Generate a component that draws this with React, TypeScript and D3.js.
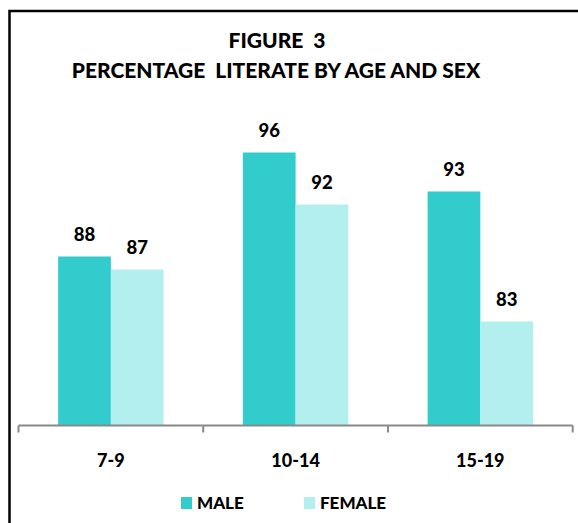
import React, { useEffect, useRef } from 'react';
import * as d3 from 'd3';

const categories = ['7-9', '10-14', '15-19'];
const seriesNames = ['MALE', 'FEMALE'];
const maleValues = [88, 96, 93];
const femaleValues = [87, 92, 83];
const colors = ['#33CCCC', '#B3EFEE'];

const width = 578;
const height = 523;
const font = 'Lato, "Open Sans", sans-serif';

export default function App() {
  const svgRef = useRef<SVGSVGElement>(null);

  useEffect(() => {
    if (!svgRef.current) return;
    const svg = d3.select(svgRef.current);
    svg.selectAll('*').remove();

    // outer frame (only top and left edges visible)
    svg.append('rect')
      .attr('x', 9.5)
      .attr('y', 11)
      .attr('width', 700)
      .attr('height', 700)
      .attr('fill', 'white')
      .attr('stroke', '#000')
      .attr('stroke-width', 2.5);

    // title
    svg.append('text')
      .attr('x', 277)
      .attr('y', 48)
      .attr('text-anchor', 'middle')
      .style('font-family', font)
      .style('font-weight', '900')
      .style('font-size', '21px')
      .style('white-space', 'pre')
      .text('FIGURE  3');

    svg.append('text')
      .attr('x', 276)
      .attr('y', 78)
      .attr('text-anchor', 'middle')
      .style('font-family', font)
      .style('font-weight', '900')
      .style('font-size', '21px')
      .style('white-space', 'pre')
      .text('PERCENTAGE  LITERATE BY AGE AND SEX');

    const x0 = d3.scaleBand<string>()
      .domain(categories)
      .range([18.5, 572.7])
      .padding(0);

    const x1 = d3.scaleBand<string>()
      .domain(seriesNames)
      .range([0, x0.bandwidth()])
      .paddingInner(0)
      .paddingOuter(0.752);

    const y = d3.scaleLinear()
      .domain([75, 100])
      .range([425.5, 100.5]);

    const rows = categories.map((c, i) => ({
      category: c,
      values: [
        { name: seriesNames[0], value: maleValues[i], color: colors[0] },
        { name: seriesNames[1], value: femaleValues[i], color: colors[1] },
      ],
    }));

    const groups = svg.selectAll('g.cat')
      .data(rows)
      .enter()
      .append('g')
      .attr('class', 'cat')
      .attr('transform', d => `translate(${x0(d.category)},0)`);

    groups.selectAll('rect')
      .data(d => d.values)
      .enter()
      .append('rect')
      .attr('x', d => x1(d.name)!)
      .attr('y', d => y(d.value))
      .attr('width', x1.bandwidth())
      .attr('height', d => y(75) - y(d.value))
      .attr('fill', d => d.color);

    groups.selectAll('text')
      .data(d => d.values)
      .enter()
      .append('text')
      .attr('x', d => x1(d.name)! + x1.bandwidth() / 2)
      .attr('y', d => y(d.value) - 16)
      .attr('text-anchor', 'middle')
      .style('font-family', font)
      .style('font-weight', '900')
      .style('font-size', '18.5px')
      .text(d => d.value);

    // category axis
    const axis = svg.append('g');
    axis.append('line')
      .attr('x1', x0.range()[0])
      .attr('x2', x0.range()[1])
      .attr('y1', y(75))
      .attr('y2', y(75))
      .attr('stroke', '#898989')
      .attr('stroke-width', 2);

    const tickXs = [...categories.map(c => x0(c)!), x0.range()[1]];
    axis.selectAll('line.tick')
      .data(tickXs)
      .enter()
      .append('line')
      .attr('class', 'tick')
      .attr('x1', d => d)
      .attr('x2', d => d)
      .attr('y1', y(75))
      .attr('y2', y(75) + 7)
      .attr('stroke', '#898989')
      .attr('stroke-width', 2);

    axis.selectAll('text')
      .data(categories)
      .enter()
      .append('text')
      .attr('x', d => x0(d)! + x0.bandwidth() / 2)
      .attr('y', 467)
      .attr('text-anchor', 'middle')
      .style('font-family', font)
      .style('font-weight', '900')
      .style('font-size', '18px')
      .text(d => d);

    // legend
    const legendX = [181, 304];
    const legend = svg.selectAll('g.legend')
      .data(seriesNames)
      .enter()
      .append('g')
      .attr('class', 'legend')
      .attr('transform', (d, i) => `translate(${legendX[i]},497)`);

    legend.append('rect')
      .attr('width', 11)
      .attr('height', 12)
      .attr('fill', (d, i) => colors[i]);

    legend.append('text')
      .attr('x', 16)
      .attr('y', 11.5)
      .style('font-family', font)
      .style('font-weight', '900')
      .style('font-size', '17px')
      .text(d => d);
  }, []);

  return (
    <svg
      ref={svgRef}
      width={width}
      height={height}
      style={{ position: 'absolute', left: 0, top: 0, background: '#fff' }}
    />
  );
}
